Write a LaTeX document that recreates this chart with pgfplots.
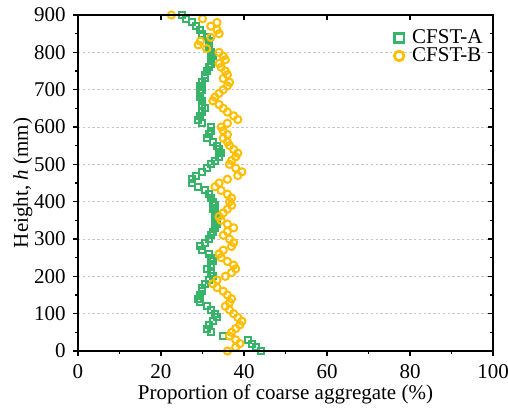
\documentclass[border=0pt]{standalone}
\usepackage{fontspec}
\setmainfont{Liberation Serif}
\usepackage{pgfplots}
\usepackage{pgfplotstable}
\pgfplotsset{compat=1.18}
\definecolor{cA}{RGB}{55,180,105}
\definecolor{cB}{RGB}{255,190,0}
\pgfplotstableread{
x y
25 900
26 890
27.5 880
28.5 870
29.5 860
30 850
31 840
31.5 830
31.5 820
31.5 810
32 800
32.5 790
32 780
32 770
31.5 760
31 750
30.5 740
30.5 730
30 720
29.5 710
30 700
29.5 690
29.5 680
30 670
30 660
30.5 650
30 640
29.5 630
29 620
30 610
32 600
32 590
31.5 580
31 570
32.5 560
33.5 550
34 540
34.5 530
34 520
33 510
32 500
31 490
30 480
28.5 470
27.5 460
27.5 450
29 440
30.5 430
31.5 420
32 410
32.5 400
33 390
32.5 380
33 370
33.5 360
33 350
33.5 340
33 330
32.5 320
32 310
31.5 300
30.5 290
29.5 280
30 270
31.5 260
32 250
32.5 240
32 230
31 220
32 210
32.5 200
31.5 190
30.5 180
30 170
30 160
29.5 150
29 140
29.5 130
31 120
32 110
33 100
33.5 90
32.5 80
31.5 70
31 60
32 50
35 40
41 30
42 20
43 10
44 0
}\dataA
\pgfplotstableread{
x y
22.5 900
30 890
33.5 880
32 870
33.5 860
34 850
32 840
29.5 830
29 820
31 810
34 800
35 790
35.5 780
34 770
34.5 760
35.5 750
36 740
35 730
36.5 720
36 710
35 700
34 690
33 680
32.5 670
34 660
35 650
36 640
37.5 630
38.5 620
36 610
34.5 600
35 590
36 580
35 570
36 560
36.5 550
37.5 540
38.5 530
38 520
37 510
36.5 500
38 490
39.5 480
38.5 470
36 460
34 450
33 440
34.5 430
36 420
37 410
36.5 400
37 390
36 380
35 370
34 360
34.5 350
36 340
37.5 330
36 320
35 310
36.5 300
37.5 290
37 280
35 270
34 260
34.5 250
36 240
37.5 230
38 220
37 210
35.5 200
33.5 190
32.5 180
33.5 170
35 160
36 150
37 140
36.5 130
35.5 120
36.5 110
37.5 100
38.5 90
39.5 80
39 70
38 60
37 50
36.5 40
38 30
39 20
38 10
36 0
}\dataB
\begin{document}
\fontsize{10.5bp}{12.6bp}\selectfont
\begin{tikzpicture}
\begin{axis}[name=main, scale only axis, width=207.5bp, height=168bp,
  xmin=0, xmax=100, ymin=0, ymax=900,
  xtick={0,20,...,100}, minor x tick num=1,
  ytick={0,100,...,900}, minor y tick num=1,
  xtick pos=left, ytick pos=left, tick align=outside,
  major tick length=2.5bp, minor tick length=1.5bp,
  every tick/.style={black, line width=0.7bp},
  axis line style={line width=0.8bp},
  ymajorgrids, grid style={gray!45, line width=0.4bp, dash pattern=on 1.2bp off 1.2bp},
  /pgf/number format/assume math mode=true,
  xticklabel style={yshift=-0.5bp},
  xlabel={Proportion of coarse aggregate (\%)},
  xlabel style={at={(axis description cs:0.5,-0.1458)}, anchor=base},
  ylabel={Height, \textit{h} (mm)},
  ylabel style={at={(axis description cs:-0.1205,0.5)}, anchor=base, rotate=0},
  legend cell align=left,
  legend style={at={(1,1)}, anchor=north east, xshift=-4.5bp, yshift=-6.75bp,
    draw=none, fill=none, inner sep=0pt, row sep=0bp,
    nodes={inner sep=0.5bp, text height=6.8bp, text depth=1.2bp, outer sep=0pt}},
  legend image code/.code={\draw[#1, mark size=2.4bp, line width=1.4bp] plot coordinates {(0.25cm,0cm)}; \path (0.25cm,0cm) ++(5.5bp,0bp);},
]
\addplot[only marks, mark=square, mark size=1.5bp, color=cA, line width=1bp] table[x=x,y=y] {\dataA};
\addlegendentry{CFST-A}
\addplot[only marks, mark=o, mark size=1.8bp, color=cB, line width=1bp] table[x=x,y=y] {\dataB};
\addlegendentry{CFST-B}
\end{axis}
\begin{axis}[scale only axis, width=207.5bp, height=168bp,
  xmin=0, xmax=100, ymin=0, ymax=900,
  xtick={0,20,...,100}, minor x tick num=0,
  ytick={0,100,...,900}, minor y tick num=1,
  xtick pos=right, ytick pos=right, tick align=inside,
  xticklabels={}, yticklabels={},
  major tick length=2.5bp, minor tick length=1.5bp,
  every tick/.style={black, line width=0.7bp},
  axis line style={line width=0.8bp},
]
\end{axis}
\pgfresetboundingbox
\path ([shift={(-39bp,-28.5bp)}]main.south west) rectangle ([shift={(7.5bp,7.5bp)}]main.north east);
\end{tikzpicture}
\end{document}
